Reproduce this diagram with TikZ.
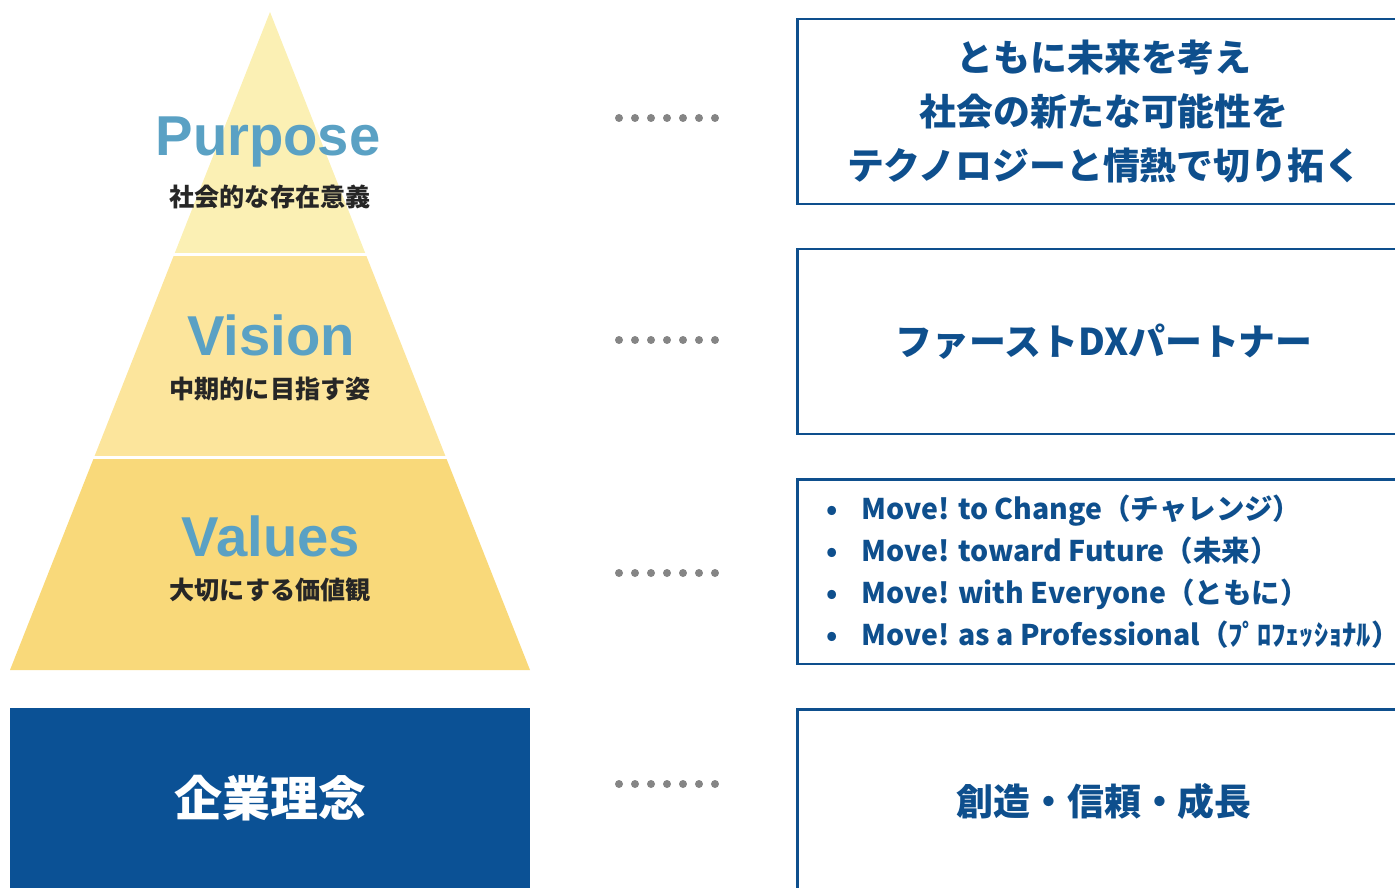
\documentclass[tikz,border=0pt]{standalone}
\usepackage{fontspec}
\setmainfont{Liberation Sans}
\newfontfamily\jpfont{Noto Sans CJK JP}
\usetikzlibrary{positioning}

\definecolor{tierone}{HTML}{FBF0B4}
\definecolor{tiertwo}{HTML}{FCE59C}
\definecolor{tierthree}{HTML}{F9D97A}
\definecolor{headblue}{HTML}{5AA1C4}
\definecolor{navy}{HTML}{0E4F8D}
\definecolor{navyfill}{HTML}{0B5195}
\definecolor{dotgray}{HTML}{858585}

\begin{document}
\begin{tikzpicture}[x=0.02cm, y=-0.02cm,
        heading/.style={font=\bfseries\fontsize{32}{32}\selectfont, text=headblue, anchor=base, inner sep=0pt},
        subtitle/.style={font=\jpfont\bfseries\fontsize{14.3}{14.3}\selectfont, text=black!85, inner sep=0pt},
        msgbox/.style={draw=navy, line width=0.05cm, minimum width=12.28cm, minimum height=3.7cm, anchor=north west, align=center, text=navy, font=\jpfont\bfseries\fontsize{21}{30.6}\selectfont, inner sep=0pt},
        dotrow/.style={draw=dotgray, line width=0.16cm, line cap=round, dash pattern=on 0cm off 0.32cm}]
        \useasboundingbox (0,0) rectangle (1395,888);
        \clip (0,0) rectangle (1395,888);

        % Pyramid
        \fill[tierone] (270,12) -- (366,255) -- (174,255) -- cycle;
        \fill[tiertwo] (174,255) -- (366,255) -- (445.8,457) -- (94.2,457) -- cycle;
        \fill[tierthree] (94.2,457) -- (445.8,457) -- (530,670) -- (10,670) -- cycle;
        \draw[white, line width=0.06cm] (170,255) -- (370,255);
        \draw[white, line width=0.06cm] (90,457) -- (450,457);

        \node[heading] (purpose) at (268,156) {Purpose};
        \node[subtitle] (purposesub) at (270,197) {社会的な存在意義};
        \node[heading] (vision) at (271,355) {Vision};
        \node[subtitle] (visionsub) at (270,389) {中期的に目指す姿};
        \node[heading] (values) at (271,556) {Values};
        \node[subtitle] (valuessub) at (270,590) {大切にする価値観};

        \node[fill=navyfill, minimum width=10.4cm, minimum height=3.6cm, anchor=north west, inner sep=0pt, text=white, font=\jpfont\bfseries\fontsize{27.3}{27.3}\selectfont] (philosophy) at (10,708) {企業理念};

        % Boxes
        \node[msgbox] (purposebox) at (796,18) {ともに未来を考え\\社会の新たな可能性を\\テクノロジーと情熱で切り拓く};
        \node[msgbox] (visionbox) at (796,248) {ファーストDXパートナー};
        \node[msgbox] (valuesbox) at (796,478) {};
        \node[msgbox] (philosophybox) at (796,708) {創造・信頼・成長};
        \node[right=0.6cm of valuesbox.west, align=left, inner sep=0pt, text=navy, font=\jpfont\bfseries\fontsize{16.2}{24}\selectfont] (valueslist) {%
            \makebox[20pt][l]{•}Move! to Change（チャレンジ）\\
            \makebox[20pt][l]{•}Move! toward Future（未来）\\
            \makebox[20pt][l]{•}Move! with Everyone（ともに）\\
            \makebox[20pt][l]{•}Move! as a Professional（ﾌﾟﾛﾌｪｯｼｮﾅﾙ）};

        % Dots
        \foreach \y [count=\i] in {118,340,573,784} {
            \coordinate (dotstart\i) at (619,\y);
            \coordinate (dotend\i) at (716,\y);
            \draw[dotrow] (dotstart\i) -- (dotend\i);
        }
    \end{tikzpicture}
\end{document}
